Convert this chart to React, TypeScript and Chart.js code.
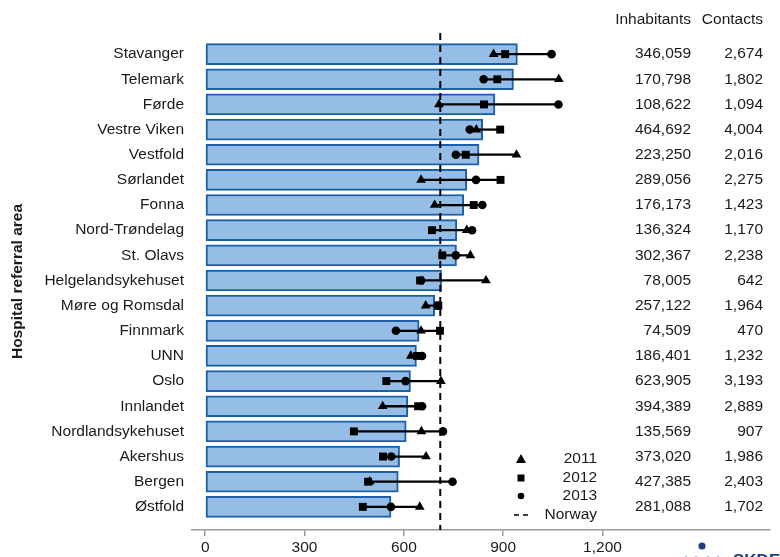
import React, { useEffect, useRef } from "react";
import { Chart, registerables } from "chart.js";

Chart.register(...registerables);

const categories = [
  "Stavanger", "Telemark", "Førde", "Vestre Viken", "Vestfold", "Sørlandet", "Fonna",
  "Nord-Trøndelag", "St. Olavs", "Helgelandsykehuset", "Møre og Romsdal", "Finnmark",
  "UNN", "Oslo", "Innlandet", "Nordlandsykehuset", "Akershus", "Bergen", "Østfold",
];
const rate = [943, 931, 875, 838, 827, 790, 781, 760, 759, 714, 693, 646, 638, 620, 612, 607, 587, 583, 561];
const y2011 = [871, 1068, 706, 819, 940, 652, 693, 790, 801, 848, 666, 652, 621, 712, 536, 653, 667, 497, 648];
const y2012 = [906, 882, 842, 891, 787, 892, 811, 685, 716, 649, 704, 709, 640, 547, 643, 449, 537, 492, 476];
const y2013 = [1046, 841, 1067, 799, 757, 818, 837, 806, 757, 652, 702, 576, 655, 605, 655, 718, 562, 747, 561];
const inhabitants = ["346,059", "170,798", "108,622", "464,692", "223,250", "289,056", "176,173", "136,324", "302,367", "78,005", "257,122", "74,509", "186,401", "623,905", "394,389", "135,569", "373,020", "427,385", "281,088"];
const contacts = ["2,674", "1,802", "1,094", "4,004", "2,016", "2,275", "1,423", "1,170", "2,238", "642", "1,964", "470", "1,232", "3,193", "2,889", "907", "1,986", "2,403", "1,702"];
const norway = 710;
const xTicks = [0, 300, 600, 900, 1200];
const legendLabels = ["2011", "2012", "2013", "Norway"];

const FONT = "'Liberation Sans', Arial, sans-serif";
const TEXT = "#1a1a1a";
const Y_MIN = -0.84;
const Y_MAX = 18.92;

const overlayPlugin = {
  id: "overlay",
  afterDraw(chart: any) {
    const ctx = chart.ctx;
    const yScale = chart.scales.y;
    ctx.save();
    ctx.fillStyle = TEXT;
    ctx.font = `15.5px ${FONT}`;
    ctx.textAlign = "right";
    ctx.textBaseline = "middle";
    ctx.fillText("Inhabitants", 691, 20);
    ctx.fillText("Contacts", 763, 20);
    categories.forEach((_, i) => {
      const y = yScale.getPixelForValue(i);
      ctx.fillText(inhabitants[i], 691, y);
      ctx.fillText(contacts[i], 763, y);
    });
    // legend
    const lx = 521;
    const ly = [459, 478, 496, 515];
    ctx.fillStyle = "#000";
    ctx.beginPath();
    ctx.moveTo(lx, ly[0] - 5);
    ctx.lineTo(lx + 5, ly[0] + 4);
    ctx.lineTo(lx - 5, ly[0] + 4);
    ctx.closePath();
    ctx.fill();
    ctx.fillRect(lx - 3.5, ly[1] - 3.5, 7, 7);
    ctx.beginPath();
    ctx.arc(lx, ly[2], 3.3, 0, Math.PI * 2);
    ctx.fill();
    ctx.strokeStyle = "#000";
    ctx.lineWidth = 1.3;
    ctx.setLineDash([5, 4]);
    ctx.beginPath();
    ctx.moveTo(514, ly[3]);
    ctx.lineTo(530, ly[3]);
    ctx.stroke();
    ctx.setLineDash([]);
    ctx.fillStyle = TEXT;
    legendLabels.forEach((t, i) => ctx.fillText(t, 597, ly[i]));
    // logo
    ctx.fillStyle = "#1b3f7f";
    ctx.beginPath();
    ctx.arc(702, 546, 3.6, 0, Math.PI * 2);
    ctx.fill();
    ctx.fillStyle = "#a9c3e3";
    [686, 696, 708, 718].forEach((x) => {
      ctx.beginPath();
      ctx.arc(x, 557, 1.3, 0, Math.PI * 2);
      ctx.fill();
    });
    ctx.fillStyle = "#1b3f7f";
    ctx.font = `bold 17px ${FONT}`;
    ctx.textAlign = "left";
    ctx.textBaseline = "alphabetic";
    ctx.fillText("SKDE", 733, 566);
    ctx.restore();
  },
};

export default function App() {
  const ref = useRef<HTMLCanvasElement | null>(null);
  useEffect(() => {
    document.body.style.margin = "0";
    const canvas = ref.current;
    if (!canvas) return;
    const idx = categories.map((_, i) => i);
    const chart = new Chart(canvas, {
      type: "bar",
      data: {
        datasets: [
          {
            type: "scatter",
            label: "2011",
            data: idx.map((i) => ({ x: y2011[i], y: i })),
            pointStyle: "triangle",
            pointRadius: 5.6,
            backgroundColor: "#000",
            borderColor: "#000",
            borderWidth: 0,
            order: 0,
          } as any,
          {
            type: "scatter",
            label: "2012",
            data: idx.map((i) => ({ x: y2012[i], y: i })),
            pointStyle: "rect",
            pointRadius: 5.6,
            backgroundColor: "#000",
            borderColor: "#000",
            borderWidth: 0,
            order: 1,
          } as any,
          {
            type: "scatter",
            label: "2013",
            data: idx.map((i) => ({ x: y2013[i], y: i })),
            pointStyle: "circle",
            pointRadius: 4.3,
            backgroundColor: "#000",
            borderColor: "#000",
            borderWidth: 0,
            order: 2,
          } as any,
          {
            type: "bar",
            label: "range",
            data: idx.map((i) => ({
              x: [Math.min(y2011[i], y2012[i], y2013[i]), Math.max(y2011[i], y2012[i], y2013[i])],
              y: i,
            })),
            backgroundColor: "#000",
            borderWidth: 0,
            barThickness: 1.6,
            grouped: false,
            order: 3,
          } as any,
          {
            type: "line",
            label: "Norway",
            data: [
              { x: norway, y: Y_MIN },
              { x: norway, y: Y_MAX },
            ],
            borderColor: "#000",
            borderWidth: 2,
            borderDash: [7, 5],
            pointRadius: 0,
            fill: false,
            order: 4,
          } as any,
          {
            type: "bar",
            label: "rate",
            data: idx.map((i) => ({ x: rate[i], y: i })),
            backgroundColor: "#95bde6",
            borderColor: "#1c5fa9",
            borderWidth: 2,
            borderSkipped: false,
            barThickness: 21,
            grouped: false,
            order: 5,
          } as any,
        ],
      },
      options: {
        indexAxis: "y",
        responsive: false,
        animation: false,
        layout: { padding: { top: 33, right: 10, left: 0, bottom: 0 } },
        plugins: { legend: { display: false }, tooltip: { enabled: false } },
        scales: {
          x: {
            type: "linear",
            position: "bottom",
            offset: false,
            min: -40,
            max: 1706,
            afterBuildTicks: (s: any) => {
              s.ticks = xTicks.map((v) => ({ value: v }));
            },
            afterFit: (s: any) => {
              s.height = 27;
              s.paddingLeft = 0;
              s.paddingRight = 0;
              s.paddingTop = 0;
              s.paddingBottom = 0;
            },
            grid: {
              display: true,
              offset: false,
              drawOnChartArea: false,
              drawTicks: true,
              tickLength: 6,
              color: "#9a9a9a",
              lineWidth: 1.5,
            },
            border: { display: true, color: "#9a9a9a", width: 1.5 },
            ticks: {
              padding: 2,
              color: TEXT,
              font: { family: FONT, size: 15.5 },
              autoSkip: false,
              maxRotation: 0,
              callback: (v: any) => Number(v).toLocaleString("en-US"),
            },
          },
          y: {
            type: "linear",
            position: "left",
            offset: false,
            reverse: true,
            min: Y_MIN,
            max: Y_MAX,
            afterBuildTicks: (s: any) => {
              s.ticks = categories.map((_, i) => ({ value: i }));
            },
            afterFit: (s: any) => {
              s.width = 192;
              s.paddingTop = 0;
              s.paddingBottom = 0;
              s.paddingLeft = 0;
              s.paddingRight = 0;
            },
            grid: { display: false, drawTicks: false, offset: false },
            border: { display: false },
            title: {
              display: true,
              text: "Hospital referral area",
              color: TEXT,
              font: { family: FONT, size: 15.5, weight: "bold" },
              padding: { top: 8, bottom: 0 },
            },
            ticks: {
              padding: 8,
              color: TEXT,
              autoSkip: false,
              font: { family: FONT, size: 15.5 },
              callback: (v: any) => categories[Math.round(Number(v))] ?? "",
            },
          },
        },
      } as any,
      plugins: [overlayPlugin],
    });
    return () => chart.destroy();
  }, []);
  return (
    <div style={{ width: 780, height: 557, background: "#fff" }}>
      <canvas ref={ref} width={780} height={557} style={{ display: "block" }} />
    </div>
  );
}
